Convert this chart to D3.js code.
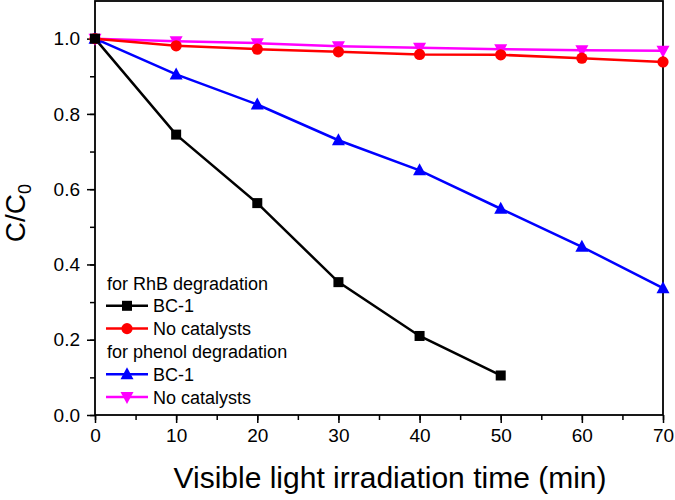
<!DOCTYPE html>
<html>
<head>
<meta charset="utf-8">
<script src="https://cdn.jsdelivr.net/npm/d3@7"></script>
<style>
  body { margin: 0; background: #fff; }
  text { font-family: "Liberation Sans", Arial, sans-serif; }
</style>
</head>
<body>
<svg width="675" height="500"></svg>
<script>
// data
var times      = [0, 10, 20, 30, 40, 50, 60, 70];
var rhbBC1     = [1.0, 0.745, 0.563, 0.353, 0.21, 0.105];
var rhbNoCat   = [1.0, 0.981, 0.972, 0.965, 0.958, 0.957, 0.948, 0.938];
var phenolBC1  = [1.0, 0.905, 0.825, 0.73, 0.65, 0.548, 0.447, 0.337];
var phenolNoCat= [1.0, 0.993, 0.988, 0.98, 0.976, 0.972, 0.969, 0.968];
var xTicks = [0, 10, 20, 30, 40, 50, 60, 70];
var yTicks = [0.0, 0.2, 0.4, 0.6, 0.8, 1.0];

var svg = d3.select('svg'),
    margin = {top: 1, right: 12, bottom: 85, left: 95},
    width  = +svg.attr('width') - margin.left - margin.right,
    height = +svg.attr('height') - margin.top - margin.bottom,
    x = d3.scaleLinear().domain([0, 70]).range([0, width]),
    y = d3.scaleLinear().domain([0, 1.1]).range([height, 0]),
    g = svg.append('g').attr('transform', 'translate(' + margin.left + ',' + margin.top + ')');

var series = [
  {name: 'BC-1',         values: rhbBC1,      color: '#000000', shape: 'square'},
  {name: 'No catalysts', values: rhbNoCat,    color: '#ff0000', shape: 'circle'},
  {name: 'BC-1',         values: phenolBC1,   color: '#0000ff', shape: 'up'},
  {name: 'No catalysts', values: phenolNoCat, color: '#ff00ff', shape: 'down'}
];

function marker(sel, shape, color) {
  if (shape === 'square') {
    sel.append('rect').attr('x', -5).attr('y', -5).attr('width', 10).attr('height', 10).attr('fill', color);
  } else if (shape === 'circle') {
    sel.append('circle').attr('r', 5.6).attr('fill', color);
  } else if (shape === 'up') {
    sel.append('path').attr('d', 'M0,-7L6.5,5L-6.5,5Z').attr('fill', color);
  } else {
    sel.append('path').attr('d', 'M0,7L6.5,-5L-6.5,-5Z').attr('fill', color);
  }
}

// axes (minor ticks first, then major with labels)
g.append('g')
    .attr('transform', 'translate(0,' + height + ')')
    .call(d3.axisBottom(x).tickValues(d3.range(0, 71, 5)).tickSize(5).tickFormat(''))
    .call(function(a) { a.select('.domain').remove(); a.selectAll('line').attr('stroke-width', 1.5); });
g.append('g')
    .attr('transform', 'translate(0,' + height + ')')
    .call(d3.axisBottom(x).tickValues(xTicks).tickSize(8).tickPadding(6).tickFormat(d3.format('d')))
    .call(function(a) {
      a.select('.domain').remove();
      a.selectAll('line').attr('stroke-width', 1.5);
      a.selectAll('text').attr('font-size', 19).attr('fill', '#000');
    });
g.append('g')
    .call(d3.axisLeft(y).tickValues(d3.range(0, 1.05, 0.1)).tickSize(5).tickFormat(''))
    .call(function(a) { a.select('.domain').remove(); a.selectAll('line').attr('stroke-width', 1.5); });
g.append('g')
    .call(d3.axisLeft(y).tickValues(yTicks).tickSize(8).tickPadding(7).tickFormat(d3.format('.1f')))
    .call(function(a) {
      a.select('.domain').remove();
      a.selectAll('line').attr('stroke-width', 1.5);
      a.selectAll('text').attr('font-size', 19).attr('fill', '#000');
    });

// frame
g.append('rect')
    .attr('width', width).attr('height', height)
    .attr('fill', 'none').attr('stroke', '#000').attr('stroke-width', 1.8);

// lines and markers
var line = d3.line()
    .x(function(d, i) { return x(times[i]); })
    .y(function(d) { return y(d); });

series.slice().reverse().forEach(function(s) {
  g.append('path')
      .datum(s.values)
      .attr('d', line)
      .attr('fill', 'none')
      .attr('stroke', s.color)
      .attr('stroke-width', 2.5);
});
series.slice().reverse().forEach(function(s) {
  s.values.forEach(function(v, i) {
    var m = g.append('g').attr('transform', 'translate(' + x(times[i]) + ',' + y(v) + ')');
    marker(m, s.shape, s.color);
  });
});

// legend
var legend = g.append('g').attr('transform', 'translate(11,0)');
var rows = [
  {head: 'for RhB degradation'},
  series[0], series[1],
  {head: 'for phenol degradation'},
  series[2], series[3]
];
rows.forEach(function(r, i) {
  var yy = 282 + i * 22.8;
  if (r.head) {
    legend.append('text').attr('x', 1).attr('y', yy + 6.5).attr('font-size', 18).text(r.head);
  } else {
    legend.append('line').attr('x1', 0).attr('x2', 42).attr('y1', yy).attr('y2', yy)
        .attr('stroke', r.color).attr('stroke-width', 2.5);
    var m = legend.append('g').attr('transform', 'translate(21,' + yy + ')');
    marker(m, r.shape, r.color);
    legend.append('text').attr('x', 47).attr('y', yy + 6.5).attr('font-size', 18).text(r.name);
  }
});

// axis titles
svg.append('text')
    .attr('x', 390).attr('y', 488)
    .attr('text-anchor', 'middle').attr('font-size', 30)
    .text('Visible light irradiation time (min)');

var yl = svg.append('text')
    .attr('transform', 'translate(25,213) rotate(-90)')
    .attr('text-anchor', 'middle').attr('font-size', 28);
yl.append('tspan').text('C/C');
yl.append('tspan').attr('font-size', 18).attr('dy', 6).text('0');
</script>
</body>
</html>
